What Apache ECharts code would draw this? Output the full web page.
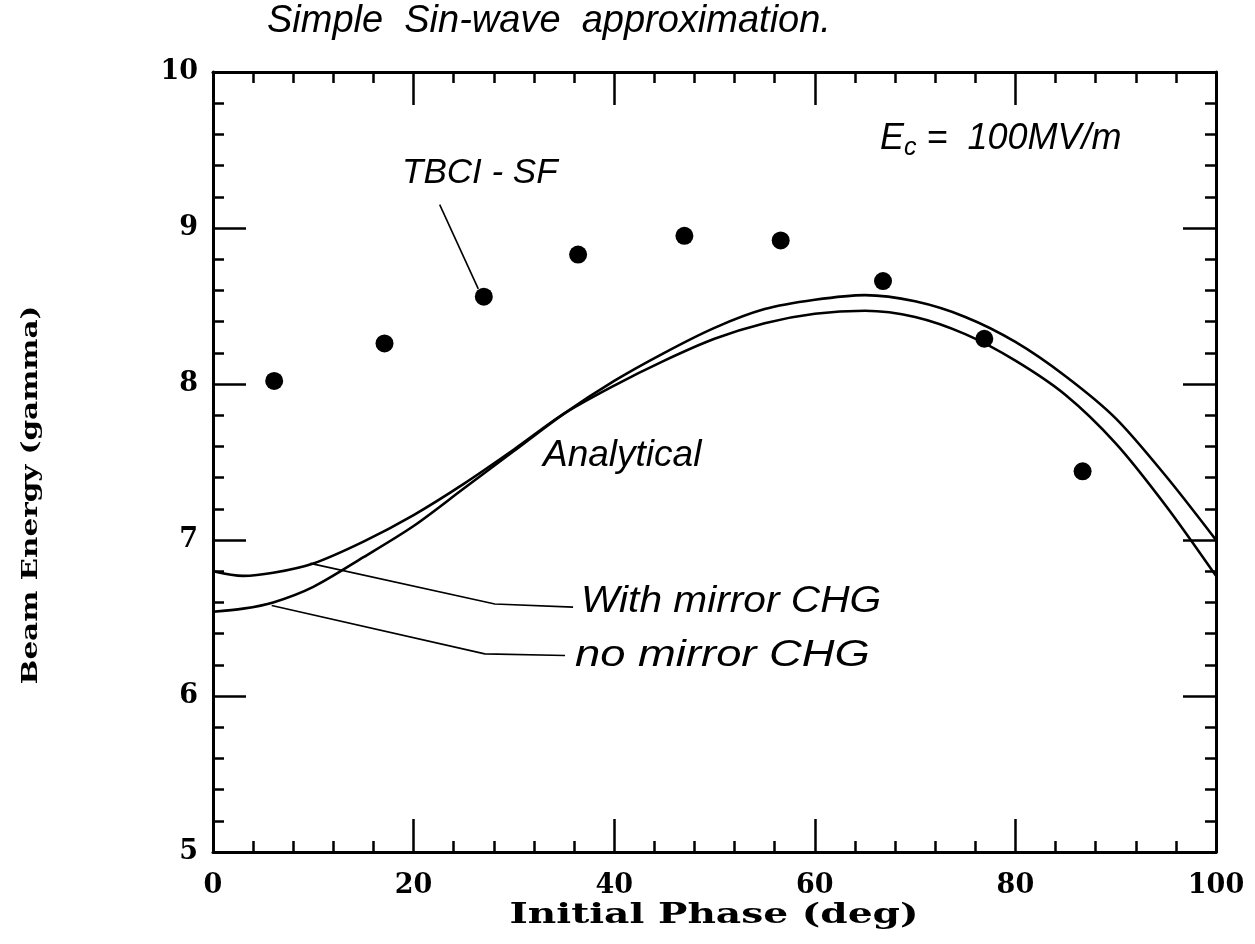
<!DOCTYPE html>
<html>
<head>
<meta charset="utf-8">
<script src="https://cdn.jsdelivr.net/npm/echarts@6/dist/echarts.min.js"></script>
<style>html,body{margin:0;padding:0;background:#fff}#c{width:1255px;height:944px}</style>
</head>
<body>
<div id="c"></div>
<script>
// ---- data ----
const phaseCurve = [0, 3, 6, 10, 15, 20, 25, 30, 35, 40, 45, 50, 55, 60, 65, 70, 75, 80, 85, 90, 95, 100];
const withMirror = [6.80, 6.77, 6.79, 6.85, 6.99, 7.16, 7.36, 7.58, 7.81, 7.99, 8.15, 8.29, 8.39, 8.45, 8.47, 8.43, 8.32, 8.15, 7.93, 7.62, 7.22, 6.77];
const noMirror   = [6.54, 6.56, 6.60, 6.70, 6.89, 7.09, 7.33, 7.57, 7.81, 8.02, 8.20, 8.36, 8.48, 8.54, 8.57, 8.53, 8.43, 8.27, 8.05, 7.78, 7.41, 7.00];
const tbciPhase  = [6.1, 17.1, 27.0, 36.4, 47.0, 56.6, 66.8, 76.9, 86.7];
const tbciEnergy = [8.02, 8.26, 8.56, 8.83, 8.95, 8.92, 8.66, 8.29, 7.44];
const leaderWith = [[9.7, 6.85], [28.1, 6.59], [35.9, 6.57]];
const leaderNo   = [[5.85, 6.58], [27.1, 6.27], [35.1, 6.26]];
const leaderTbci = [[22.6, 9.15], [26.45, 8.61]];
const xTicks = [0, 20, 40, 60, 80, 100];
const yTicks = [5, 6, 7, 8, 9, 10];

const zip = (xs, ys) => xs.map((x, i) => [x, ys[i]]);

const chart = echarts.init(document.getElementById('c'));
const hand = 'Liberation Sans';
const serifBold = 'DejaVu Serif';

const axisCommon = {
  axisLine: { show: true, onZero: false, lineStyle: { color: '#000', width: 3 } },
  axisTick: { show: true, inside: true, length: 33, lineStyle: { color: '#000', width: 2.5 } },
  minorTick: { show: true, splitNumber: 5, length: 11, lineStyle: { color: '#000', width: 2.5 } },
  splitLine: { show: false },
  minorSplitLine: { show: false }
};
const handText = (size) => ({ fontFamily: hand, fontStyle: 'italic', fontSize: size, fill: '#000' });

chart.setOption({
  animation: false,
  backgroundColor: '#fff',
  grid: { left: 213, right: 39, top: 72, bottom: 92, outerBoundsMode: 'none' },
  xAxis: [
    Object.assign({
      type: 'value', min: xTicks[0], max: xTicks[xTicks.length - 1], interval: 20, position: 'bottom',
      axisLabel: { margin: 20, fontFamily: serifBold, fontWeight: 'bold', fontSize: 27, color: '#000' }
    }, axisCommon),
    Object.assign({
      type: 'value', min: xTicks[0], max: xTicks[xTicks.length - 1], interval: 20, position: 'top',
      axisLabel: { show: false }
    }, axisCommon)
  ],
  yAxis: [
    Object.assign({
      type: 'value', min: yTicks[0], max: yTicks[yTicks.length - 1], interval: 1, position: 'left',
      axisLabel: { margin: 15, fontFamily: serifBold, fontWeight: 'bold', fontSize: 27, color: '#000' }
    }, axisCommon),
    Object.assign({
      type: 'value', min: yTicks[0], max: yTicks[yTicks.length - 1], interval: 1, position: 'right',
      axisLabel: { show: false }
    }, axisCommon)
  ],
  series: [
    { name: 'With mirror CHG', type: 'line', smooth: 0.3, showSymbol: false, data: zip(phaseCurve, withMirror),
      lineStyle: { color: '#000', width: 2.6 } },
    { name: 'No mirror CHG', type: 'line', smooth: 0.3, showSymbol: false, data: zip(phaseCurve, noMirror),
      lineStyle: { color: '#000', width: 2.6 } },
    { name: 'TBCI-SF', type: 'scatter', symbol: 'circle', symbolSize: 18, data: zip(tbciPhase, tbciEnergy),
      itemStyle: { color: '#000', opacity: 1 } },
    { type: 'line', showSymbol: false, data: leaderWith, lineStyle: { color: '#000', width: 1.6 }, silent: true },
    { type: 'line', showSymbol: false, data: leaderNo, lineStyle: { color: '#000', width: 1.6 }, silent: true },
    { type: 'line', showSymbol: false, data: leaderTbci, lineStyle: { color: '#000', width: 1.6 }, silent: true }
  ],
  graphic: [
    { type: 'text', x: 714, y: 916, scaleX: 1.45,
      style: { text: 'Initial Phase (deg)', fontFamily: serifBold, fontWeight: 'bold', fontSize: 27, fill: '#000', align: 'center', verticalAlign: 'middle' } },
    { type: 'text', x: 31, y: 495, rotation: Math.PI / 2, scaleX: 1.28,
      style: { text: 'Beam Energy (gamma)', fontFamily: serifBold, fontWeight: 'bold', fontSize: 23, fill: '#000', align: 'center', verticalAlign: 'middle' } },
    { type: 'text', x: 267, y: 2, style: Object.assign({ text: 'Simple  Sin-wave  approximation.' }, handText(38)) },
    { type: 'text', x: 880, y: 116, style: {
        text: '{e|E}{c|c}{e| =  100MV/m}',
        rich: { e: handText(36), c: Object.assign({ padding: [20, 0, 0, 0] }, handText(25)) } } },
    { type: 'text', x: 402, y: 156, style: Object.assign({ text: 'TBCI - SF' }, handText(35)) },
    { type: 'text', x: 543, y: 437, style: Object.assign({ text: 'Analytical' }, handText(37)) },
    { type: 'text', x: 581, y: 584, scaleX: 1.13, style: Object.assign({ text: 'With mirror CHG' }, handText(36)) },
    { type: 'text', x: 575, y: 638, scaleX: 1.26, style: Object.assign({ text: 'no mirror CHG' }, handText(36)) }
  ]
});
</script>
</body>
</html>
